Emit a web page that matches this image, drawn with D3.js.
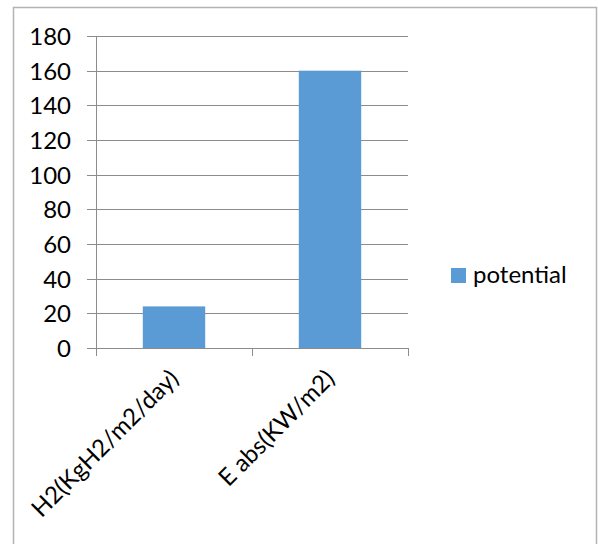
<!DOCTYPE html>
<html>
<head>
<meta charset="utf-8">
<script src="https://cdn.jsdelivr.net/npm/d3@7"></script>
<style>
  html, body { margin: 0; padding: 0; background: #fff; }
  svg text { font-family: Lato, "Open Sans", sans-serif; fill: #000; }
</style>
</head>
<body>
<svg id="chart" width="598" height="544"></svg>
<script>
// Categories, series and y-axis ticks
const categories = ["H2(KgH2/m2/day)", "E abs(KW/m2)"];
const seriesName = "potential";
const values = [24, 160];
const yTicks = [0, 20, 40, 60, 80, 100, 120, 140, 160, 180];

const svg = d3.select("#chart");
const W = 598, H = 544;
const plot = { left: 96, right: 408, top: 36, bottom: 348 };
const barColor = "#5b9bd5";
const gridColor = "#8c8c8c";
const fontSize = 24;

// Chart frame
svg.append("path")
  .attr("d", `M13.5,${H} V7.5 H596.5 V${H}`)
  .attr("fill", "none")
  .attr("stroke", "#b3b3b3")
  .attr("stroke-width", 1.5);

const x = d3.scaleBand()
  .domain(categories)
  .range([plot.left, plot.right])
  .paddingInner(0.6)
  .paddingOuter(0.3);

const y = d3.scaleLinear()
  .domain([0, 180])
  .range([plot.bottom, plot.top]);

// Horizontal gridlines
svg.append("g")
  .selectAll("line")
  .data(yTicks)
  .join("line")
  .attr("x1", plot.left - 9)
  .attr("x2", plot.right)
  .attr("y1", d => Math.round(y(d)) + 0.5)
  .attr("y2", d => Math.round(y(d)) + 0.5)
  .attr("stroke", gridColor)
  .attr("stroke-width", 1);

// Y axis labels
const yAxis = d3.axisLeft(y).tickValues(yTicks).tickSize(0).tickPadding(0);
const yg = svg.append("g").attr("transform", `translate(71,0)`).call(yAxis);
yg.select(".domain").remove();
yg.selectAll("text")
  .attr("font-size", fontSize)
  .attr("font-family", "Lato, sans-serif")
  .attr("fill", "#000")
  .attr("dy", "0.35em");

// Bars
svg.append("g")
  .selectAll("rect")
  .data(values)
  .join("rect")
  .attr("x", (d, i) => x(categories[i]))
  .attr("width", x.bandwidth())
  .attr("y", d => y(d))
  .attr("height", d => y(0) - y(d))
  .attr("fill", barColor);

// Axis lines and category tick marks
svg.append("line")
  .attr("x1", plot.left + 0.5).attr("x2", plot.left + 0.5)
  .attr("y1", plot.top).attr("y2", plot.bottom + 8)
  .attr("stroke", gridColor);
svg.append("line")
  .attr("x1", plot.left).attr("x2", plot.right)
  .attr("y1", plot.bottom + 0.5).attr("y2", plot.bottom + 0.5)
  .attr("stroke", gridColor);
const boundaries = d3.range(categories.length + 1).map(i => plot.left + i * (plot.right - plot.left) / categories.length);
svg.append("g")
  .selectAll("line")
  .data(boundaries)
  .join("line")
  .attr("x1", d => Math.round(d) + 0.5)
  .attr("x2", d => Math.round(d) + 0.5)
  .attr("y1", plot.bottom)
  .attr("y2", plot.bottom + 8)
  .attr("stroke", gridColor);

// Rotated category labels
svg.append("g")
  .selectAll("text")
  .data(categories)
  .join("text")
  .attr("text-anchor", "end")
  .attr("font-size", fontSize)
  .attr("transform", d => {
    const cx = x(d) + x.bandwidth() / 2 + 6;
    return `translate(${cx},${plot.bottom + 32}) rotate(-45)`;
  })
  .text(d => d);

// Legend
const lg = svg.append("g").attr("transform", "translate(451,268)");
lg.append("rect").attr("width", 15).attr("height", 15).attr("fill", barColor);
lg.append("text")
  .attr("x", 22)
  .attr("y", 15)
  .attr("font-size", fontSize)
  .text(seriesName);
</script>
</body>
</html>
